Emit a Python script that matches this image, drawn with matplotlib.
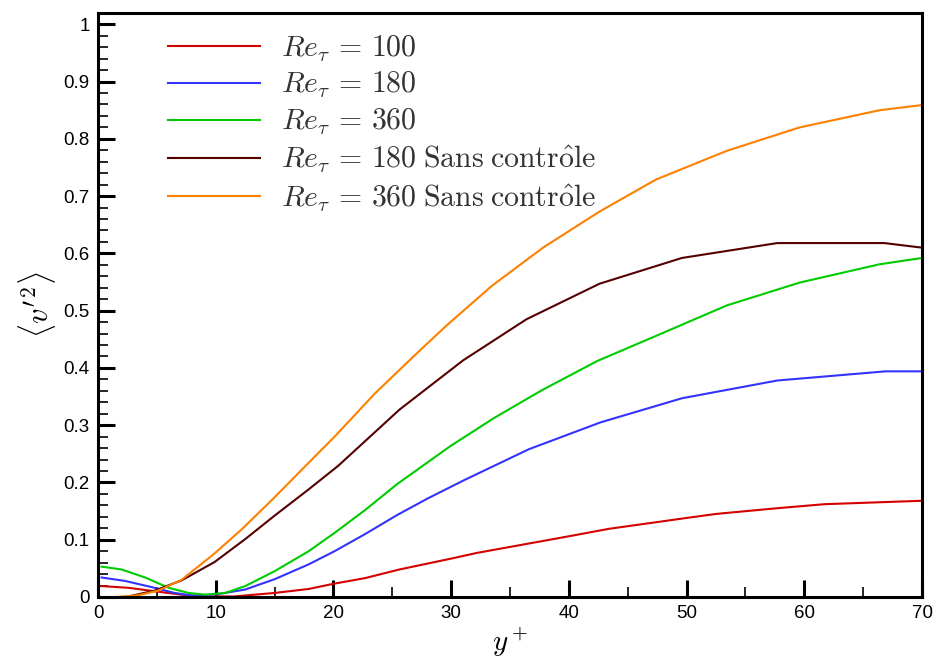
#!/usr/bin/env python3

import numpy as np
import matplotlib
matplotlib.use("Agg")
import matplotlib.pyplot as plt
from matplotlib.ticker import MultipleLocator, FuncFormatter

# Re_tau = 100
yp_100 = [0.3, 2.6, 4.8, 7.1, 9.1, 11.6, 15.0, 17.9, 20.0, 22.7, 25.6, 30.0, 32.2, 40.0, 43.4, 50.0, 52.5, 57.7, 61.7, 70.0]
v_100 = [0.019, 0.016, 0.010, 0.004, 0.001, 0.001, 0.007, 0.014, 0.023, 0.033, 0.048, 0.067, 0.077, 0.106, 0.119, 0.138, 0.145, 0.155, 0.162, 0.168]

# Re_tau = 180
yp_180 = [0.3, 2.3, 4.6, 6.5, 8.2, 10.2, 12.5, 15.0, 17.9, 20.1, 22.7, 25.4, 28.0, 31.1, 36.6, 42.7, 49.6, 57.7, 66.9, 70.0]
v_180 = [0.034, 0.028, 0.017, 0.007, 0.002, 0.005, 0.013, 0.031, 0.057, 0.080, 0.110, 0.143, 0.172, 0.204, 0.258, 0.305, 0.347, 0.378, 0.394, 0.394]

# Re_tau = 360
yp_360 = [0.3, 2.0, 4.0, 6.0, 7.7, 9.1, 10.8, 12.5, 15.0, 17.9, 20.1, 22.7, 25.4, 29.9, 33.6, 37.7, 42.4, 47.3, 53.4, 59.6, 66.4, 70.0]
v_360 = [0.053, 0.048, 0.034, 0.016, 0.007, 0.004, 0.007, 0.019, 0.045, 0.080, 0.112, 0.152, 0.197, 0.263, 0.312, 0.361, 0.412, 0.455, 0.509, 0.549, 0.581, 0.592]

# Re_tau = 180, no control
yp_180nc = [2.6, 4.8, 7.1, 9.9, 12.5, 15.0, 17.9, 20.4, 23.0, 25.6, 31.0, 36.4, 42.6, 49.6, 57.7, 66.8, 70.0]
v_180nc = [0.001, 0.011, 0.029, 0.061, 0.101, 0.142, 0.188, 0.229, 0.278, 0.327, 0.413, 0.485, 0.547, 0.592, 0.618, 0.618, 0.610]

# Re_tau = 360, no control
yp_360nc = [1.5, 3.4, 5.1, 7.1, 9.9, 12.2, 14.8, 17.3, 20.1, 23.5, 26.8, 29.6, 33.5, 37.8, 42.6, 47.4, 53.4, 59.6, 66.4, 70.0]
v_360nc = [0.000, 0.003, 0.011, 0.030, 0.076, 0.118, 0.170, 0.222, 0.280, 0.355, 0.420, 0.474, 0.544, 0.610, 0.673, 0.729, 0.779, 0.820, 0.850, 0.859]

labels = [
    r"$Re_\tau \,=\, 100$",
    r"$Re_\tau \,=\, 180$",
    r"$Re_\tau \,=\, 360$",
    r"$Re_\tau \,=\, 180\;\mathrm{Sans\;contr\hat{o}le}$",
    r"$Re_\tau \,=\, 360\;\mathrm{Sans\;contr\hat{o}le}$",
]
colours = ["#d40000", "#3333ff", "#00cc00", "#550000", "#ff8000"]

if __name__ == "__main__":
    plt.rcParams["mathtext.fontset"] = "cm"
    plt.rcParams["font.family"] = ["Liberation Sans", "DejaVu Sans"]

    fig = plt.figure(figsize=(9.38, 6.6), dpi=100)
    ax = fig.add_axes([0.1045, 0.0955, 0.8785, 0.885])

    series = [(yp_100, v_100), (yp_180, v_180), (yp_360, v_360),
              (yp_180nc, v_180nc), (yp_360nc, v_360nc)]
    for (xs, ys), lab, col in zip(series, labels, colours):
        ax.plot(xs, ys, color=col, lw=1.5, label=lab)

    ax.set_xlim(0, 70)
    ax.set_ylim(0, 1.02)
    ax.xaxis.set_major_locator(MultipleLocator(10))
    ax.xaxis.set_minor_locator(MultipleLocator(5))
    ax.yaxis.set_major_locator(MultipleLocator(0.1))
    ax.yaxis.set_minor_locator(MultipleLocator(0.02))
    ax.yaxis.set_major_formatter(FuncFormatter(lambda v, p: f"{v:g}"))

    ax.tick_params(which="both", direction="in", top=False, right=False,
                   labelsize=13.5, colors="black")
    ax.tick_params(which="major", length=12, width=2.2, pad=6)
    ax.tick_params(which="minor", length=7, width=1.2)
    for s in ax.spines.values():
        s.set_linewidth(2.2)

    ax.set_xlabel(r"$y^+$", fontsize=21, labelpad=2)
    ax.set_ylabel(r"$\langle v'^2 \rangle$", fontsize=22, labelpad=4)

    ax.legend(loc="upper left", bbox_to_anchor=(0.063, 0.995), frameon=False,
              fontsize=21.5, handlelength=3.1, handletextpad=0.7,
              labelspacing=0.22, borderaxespad=0.2, labelcolor="#333333")

    fig.savefig("out.png", dpi=100)
